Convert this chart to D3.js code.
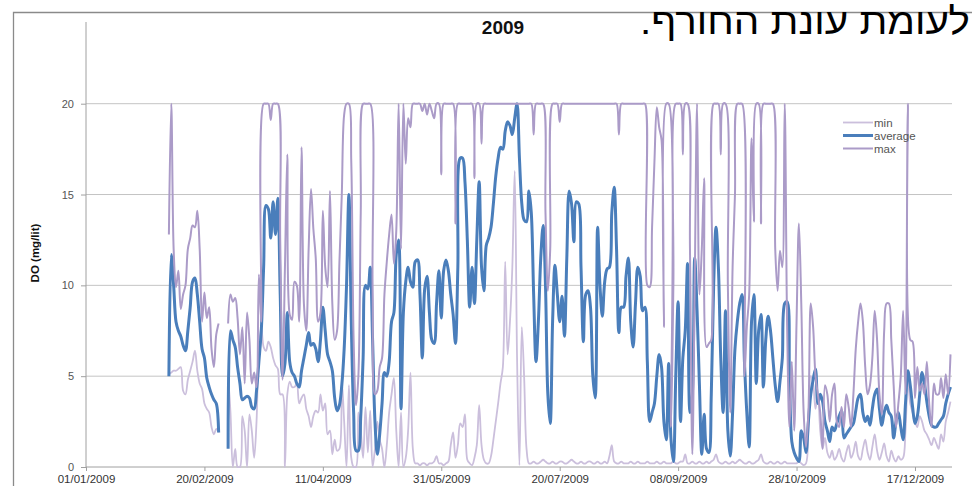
<!DOCTYPE html>
<html><head><meta charset="utf-8">
<script src="https://cdn.jsdelivr.net/npm/d3@7"></script>
<style>body{margin:0;background:#fff;} svg{display:block;}</style>
</head><body>
<svg id="chart" width="972" height="486"></svg>
<script>
// ---- DATA (daily readings, starting 05/02/2009) ----
const firstDay = "2009-02-05";
const seriesNames = ["min", "average", "max"];
const xTickLabels = ["01/01/2009","20/02/2009","11/04/2009","31/05/2009","20/07/2009","08/09/2009","28/10/2009","17/12/2009"];
const yTicks = [0, 5, 10, 15, 20];
const titleText = "2009";
const yAxisTitle = "DO (mg/lit)";
const hebrewText = "לעומת עונת החורף.";

const avgVals = [
5.0,11.7,10.0,8.0,7.5,7.2,6.7,6.4,7.5,8.8,
10.2,10.4,9.5,8.0,6.5,6.0,4.9,4.4,4.0,3.7,
3.5,1.9,null,null,null,1.0,7.5,7.0,6.6,5.5,
4.6,3.7,3.8,3.9,3.8,3.3,3.2,4.2,5.8,7.5,
11.0,14.4,14.2,12.6,14.6,12.8,14.8,9.5,5.0,5.7,
8.5,5.8,5.2,5.0,4.6,4.4,5.3,6.0,6.7,7.4,
6.7,6.8,6.5,5.8,7.0,8.8,7.5,6.2,5.8,5.3,
3.8,3.1,3.4,4.5,6.5,10.0,15.0,8.0,3.0,0.9,
0.9,2.8,6.0,10.0,9.8,11.0,7.0,2.5,0.7,1.8,
3.5,5.2,5.0,5.8,8.0,8.5,11.7,12.5,3.2,8.5,
10.2,11.0,10.2,9.9,11.3,11.4,9.5,6.0,9.8,10.5,
8.5,7.0,6.8,9.0,10.8,8.2,10.8,11.4,10.8,9.5,
8.4,6.8,11.0,17.0,17.0,15.7,12.5,8.8,11.0,9.0,
12.5,15.7,11.0,9.7,12.2,12.6,13.2,14.5,16.0,17.0,
17.6,17.5,18.5,19.0,18.8,18.3,19.2,20.0,17.0,14.5,
13.6,13.5,15.2,14.0,9.5,5.8,8.0,11.5,13.3,10.0,
4.0,2.4,8.0,11.1,9.5,8.0,9.4,7.2,11.5,15.2,
14.5,12.4,14.6,14.5,11.0,6.9,9.5,9.7,8.8,5.0,
3.8,13.2,10.0,8.3,10.2,10.9,11.0,14.0,15.4,12.0,
7.4,8.8,8.8,10.5,11.5,8.0,6.6,9.0,11.0,10.5,
8.6,8.8,5.8,2.5,3.0,3.5,5.0,6.2,5.5,2.5,
1.5,5.7,1.5,0.3,5.0,9.1,2.5,6.0,7.5,11.2,
3.0,4.0,11.5,8.6,4.5,0.7,2.9,1.0,0.8,4.0,
10.0,13.2,11.0,6.0,3.0,8.6,2.0,0.6,3.0,6.5,
8.0,9.0,9.5,5.8,3.0,1.1,8.0,9.5,4.6,7.5,
8.4,4.4,7.0,8.3,7.5,6.0,4.5,3.6,4.7,6.0,
9.0,9.1,5.0,1.4,0.8,0.5,0.3,2.0,1.6,0.8,
2.5,4.0,4.8,5.4,3.5,4.0,3.6,2.5,2.0,1.4,
2.2,2.0,2.4,2.8,3.1,1.6,1.8,2.0,2.2,2.4,
3.1,3.8,4.0,3.0,2.5,2.8,2.3,3.2,4.0,4.3,
3.2,2.3,3.0,3.4,3.0,2.8,1.6,2.5,3.0,2.2,
1.5,3.5,5.3,4.5,3.3,2.4,2.8,4.0,5.2,4.6,
3.6,2.8,2.3,2.2,2.2,2.4,2.6,2.8,3.5,4.0,
4.4];

const maxVals = [
12.8,20,12.0,9.9,10.8,8.7,9.5,10.0,12.0,12.6,
13.3,13.2,14.1,12.0,8.0,9.6,8.2,8.8,6.5,5.5,
7.3,7.9,null,null,null,7.9,9.5,9.1,9.3,8.2,
6.2,7.7,4.6,8.5,7.0,4.6,5.2,4.4,10.6,8.0,
20,20,20,19.1,20,20,20,12.5,4.8,11.0,
17.2,8.4,8.1,10.2,10.0,8.0,17.6,9.0,7.5,12.0,
15.3,13.1,11.5,8.0,8.5,14.1,11.0,9.9,15.2,9.0,
7.0,7.5,11.3,15.0,19.4,20,20,16.8,7.0,3.4,
5.0,14.0,20,20,20,20,10.0,4.0,4.2,5.5,
6.0,9.5,11.3,12.8,13.9,11.2,13.0,20,12.0,20,
16.7,19.2,18.7,20,20,20,20,19.6,20,19.4,
20,19.6,19.2,20,20,16.1,20,20,20,20,
20,13.4,20,20,20,20,20,20,20,15.9,
20,20,17.8,20,20,20,20,20,20,20,
20,20,20,20,20,20,20,20,20,20,
20,20,20,20,18.3,20,20,20,20,14.0,
9.7,12.0,20,20,20,19.0,20,20,20,20,
20,20,20,20,20,20,20,20,20,20,
20,20,20,20,20,20,20,20,20,20,
18.3,20,20,20,20,20,20,20,20,20,
20,20,10.0,9.9,13.2,16.8,19.8,18.7,18.0,7.7,
20,20,2.2,10.0,20,20,20,17.2,20,20,
12.0,0.7,10.0,20,9.5,12.0,15.9,6.6,6.8,7.0,
20,20,20,17.2,20,20,10.0,3.0,11.0,15.0,
20,20,20,5.0,7.7,9.5,18.1,13.5,20,20,
13.4,20,20,20,20,20,12.0,9.7,11.9,11.0,
20,8.0,2.2,5.8,2.0,8.0,13.4,9.0,3.0,1.1,
3.0,9.0,7.7,5.0,4.0,3.0,1.0,4.5,4.0,2.5,
4.0,4.6,2.5,2.2,3.3,2.2,4.0,3.3,2.2,4.0,
6.5,8.0,9.0,8.0,5.5,4.0,4.5,6.0,8.6,7.0,
4.0,2.9,7.5,9.0,9.0,7.0,4.5,2.2,3.5,5.0,
8.6,4.0,20,7.0,6.9,3.8,5.5,4.2,4.6,4.0,
5.8,3.5,2.2,4.6,4.0,4.0,4.9,3.8,5.1,4.0,
6.2];

const minVals = [
5.1,5.2,5.3,5.3,5.4,5.5,4.2,4.0,4.8,5.3,
5.8,6.4,5.3,4.6,4.3,3.5,3.2,3.0,2.2,1.8,
2.1,1.9,null,null,null,5.0,3.0,0,1.0,0,
0,2.8,2.0,0,2.9,2.0,0.5,2.5,6.6,7.7,
6.6,6.4,6.9,6.6,6.0,5.6,5.4,4.0,4.0,0,
4.0,4.7,4.4,4.4,4.6,3.5,3.8,4.0,3.2,2.8,
2.2,2.8,3.1,3.0,4.0,3.1,3.5,1.8,2.0,0.7,
1.5,0.9,1.0,4.7,2.5,0,4.5,0.5,0,0,
3.0,2.0,0.5,3.3,0.8,3.1,0,1.0,2.5,1.5,
1.0,0,1.2,3.0,4.0,4.9,2.0,0,3.0,0,
0.5,2.0,5.2,1.0,0.2,0.2,0.1,0.2,0.2,0.1,
0.2,0.2,0.3,0.6,0.2,0.2,0.1,0.2,0.3,1.2,
1.9,0.5,1.2,2.4,2.2,2.9,0.4,0.2,0.1,0.5,
1.2,3.4,1.2,0.4,0.2,0.2,0.6,1.5,2.5,3.5,
4.6,5.5,11.3,6.2,8.0,11.0,16.3,6.0,0.1,7.7,
4.9,1.0,0.2,0.2,0.3,0.2,0.2,0.3,0.4,0.3,
0.2,0.2,0.3,0.2,0.2,0.3,0.3,0.2,0.2,0.3,
0.4,0.3,0.2,0.2,0.3,0.2,0.2,0.3,0.3,0.2,
0.2,0.3,0.2,0.2,0.3,0.2,0.6,1.2,0.3,0.2,
0.2,0.3,0.2,0.2,0.2,0.3,0.2,0.2,0.3,0.2,
0.2,0.2,0.3,0.2,0.2,0.2,0.3,0.2,0.2,0.3,
0.2,0.2,0.2,0.3,0.2,0.2,0.3,0.3,0.7,0.2,
0.2,0.3,0.2,0.2,0.3,0.2,0.2,0.3,0.2,0.3,
0.4,0.7,0.3,0.2,0.2,0.3,0.2,0.2,0.3,0.2,
0.3,0.4,0.3,0.2,0.2,0.3,0.2,0.2,0.3,0.4,
0.7,0.3,0.2,0.2,0.3,0.2,0.2,0.3,0.2,0.2,
0.3,0.2,0.2,0.2,0.2,0.2,0.3,0.2,0.1,0.2,
2.0,5.0,4.6,3.2,4.0,2.0,1.0,1.6,0.8,0.5,
0.9,0.4,0.6,1.0,0.5,0.3,0.8,1.2,0.5,0.8,
1.4,0.6,0.4,1.0,1.5,0.8,0.4,1.1,1.8,0.9,
0.4,0.8,1.3,0.6,0.3,0.9,0.5,0.3,0.6,0.4,
0.5,2.0,4.8,3.5,3.0,2.5,2.2,2.8,2.5,2.0,
1.8,1.5,1.2,1.6,1.3,1.0,1.8,1.4,2.5,3.0,
3.6];

// ---- CHART ----
const svg = d3.select("#chart");
const parseTick = d3.utcParse("%d/%m/%Y");
const start = d3.utcParse("%Y-%m-%d")(firstDay);
const dates = avgVals.map((_, i) => d3.utcDay.offset(start, i));

const x = d3.scaleUtc()
  .domain([new Date(Date.UTC(2009, 0, 1)), new Date(Date.UTC(2010, 0, 1))])
  .range([86, 950.5]);
const y = d3.scaleLinear().domain([0, 20]).range([467, 103.7]);

// outer frame
svg.append("path").attr("d", "M13.5,486V12.5H972")
  .attr("fill", "none").attr("stroke", "#8a8a8a").attr("stroke-width", 1.3);

// gridlines
svg.append("g").selectAll("line").data(yTicks.filter(v => v > 0)).join("line")
  .attr("x1", 86).attr("x2", 952)
  .attr("y1", d => y(d)).attr("y2", d => y(d))
  .attr("stroke", "#c4c4c4").attr("stroke-width", 1);

// y axis
const yAxis = svg.append("g").attr("transform", "translate(86,0)")
  .call(d3.axisLeft(y).tickValues(yTicks).tickSize(5).tickPadding(7).tickFormat(d3.format("d")));
yAxis.select(".domain").remove();
yAxis.selectAll(".tick line").attr("stroke", "#a0a0a0");
yAxis.selectAll(".tick text").attr("font-family", "Liberation Sans, Arial, sans-serif")
  .attr("font-size", 11).attr("fill", "#555");
svg.append("line").attr("x1", 86).attr("x2", 86).attr("y1", 22).attr("y2", 467)
  .attr("stroke", "#a0a0a0").attr("stroke-width", 1);

// x axis
const xAxis = svg.append("g").attr("transform", "translate(0,467)")
  .call(d3.axisBottom(x).tickValues(xTickLabels.map(parseTick))
    .tickFormat((d, i) => xTickLabels[i]).tickSize(4).tickPadding(4));
xAxis.select(".domain").remove();
xAxis.selectAll(".tick line").attr("stroke", "#a0a0a0");
xAxis.selectAll(".tick text").attr("font-family", "Liberation Sans, Arial, sans-serif")
  .attr("font-size", 11.5).attr("fill", "#333");
svg.append("line").attr("x1", 86).attr("x2", 952).attr("y1", 467).attr("y2", 467)
  .attr("stroke", "#a0a0a0").attr("stroke-width", 1);

// clip
svg.append("clipPath").attr("id", "plotclip").append("rect")
  .attr("x", 86).attr("y", 14).attr("width", 866).attr("height", 454);

const colors = { min: "#cbbfdc", average: "#4a7ebb", max: "#ab9bc8" };
const widths = { min: 1.8, average: 3, max: 2 };
const valuesBySeries = { min: minVals, average: avgVals, max: maxVals };

const line = d3.line()
  .defined(d => d.v !== null)
  .x(d => x(d.date)).y(d => y(d.v))
  .curve(d3.curveCatmullRom.alpha(0.5));

const plot = svg.append("g").attr("clip-path", "url(#plotclip)");
seriesNames.forEach(name => {
  const data = valuesBySeries[name].map((v, i) => ({ date: dates[i], v }));
  plot.append("path").datum(data)
    .attr("fill", "none").attr("stroke", colors[name])
    .attr("stroke-width", widths[name]).attr("stroke-linejoin", "round")
    .attr("d", line);
});

// legend
const legend = svg.append("g");
seriesNames.forEach((name, i) => {
  const ly = 122.5 + i * 13;
  legend.append("line").attr("x1", 843).attr("x2", 873).attr("y1", ly).attr("y2", ly)
    .attr("stroke", colors[name]).attr("stroke-width", widths[name]);
  legend.append("text").attr("x", 874).attr("y", ly).attr("dy", "0.35em")
    .attr("font-family", "Liberation Sans, Arial, sans-serif").attr("font-size", 11.5)
    .attr("fill", "#555").text(name);
});

// titles
svg.append("text").attr("x", 503).attr("y", 34).attr("text-anchor", "middle")
  .attr("font-family", "Liberation Sans, Arial, sans-serif").attr("font-weight", "bold")
  .attr("font-size", 19).attr("fill", "#111").text(titleText);

svg.append("text").attr("transform", "translate(39,253) rotate(-90)")
  .attr("text-anchor", "middle")
  .attr("font-family", "Liberation Sans, Arial, sans-serif").attr("font-weight", "bold")
  .attr("font-size", 11.5).attr("fill", "#111").text(yAxisTitle);

// Hebrew document text above chart
svg.append("text").attr("x", 805).attr("y", 34).attr("text-anchor", "middle")
  .attr("direction", "rtl").style("direction", "rtl").style("unicode-bidi", "embed")
  .attr("font-family", "Liberation Sans, DejaVu Sans, sans-serif")
  .attr("font-size", 37).attr("fill", "#000")
  .attr("textLength", 330).attr("lengthAdjust", "spacingAndGlyphs")
  .text(hebrewText);
</script>
</body></html>
